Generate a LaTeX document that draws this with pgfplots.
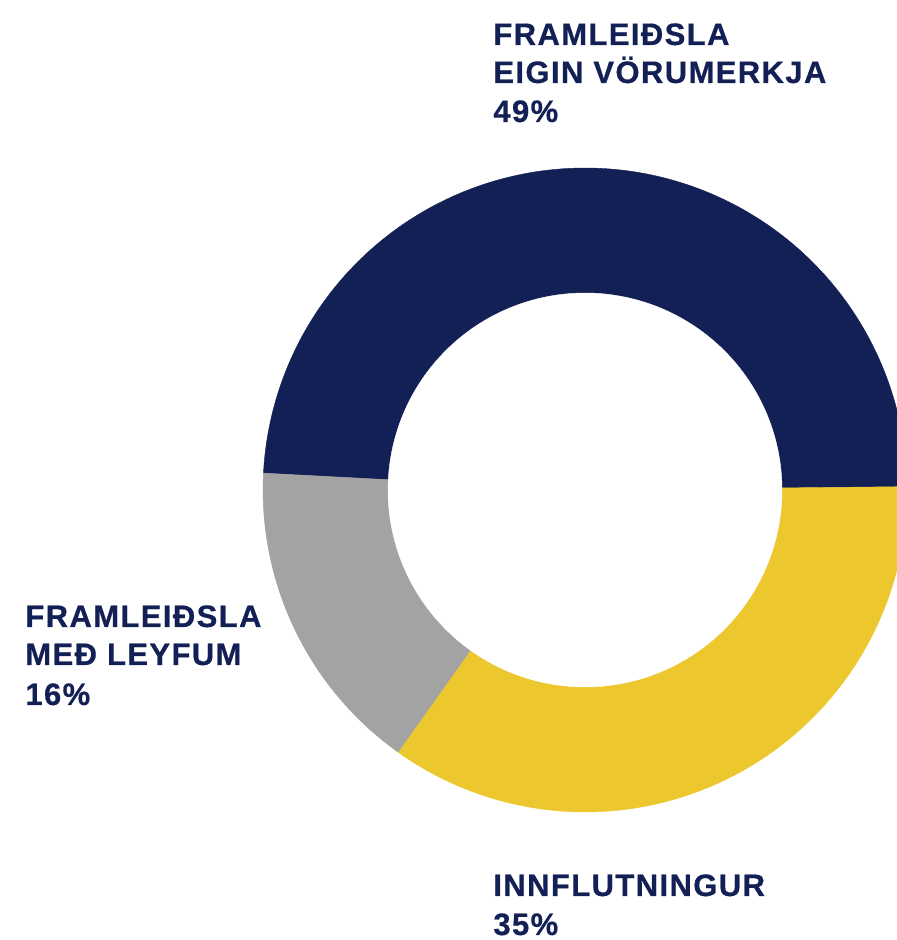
\documentclass[border=0pt]{standalone}
\usepackage{pgfplots}
\pgfplotsset{compat=1.18}
\usepackage{pgfplotstable}
\usetikzlibrary{calc}
\usepackage{fontspec}
\newfontfamily\lbl[LetterSpace=4.5, BoldFeatures={FakeBold=0.6}]{Liberation Sans}
\definecolor{navy}{RGB}{19,32,85}
\definecolor{gold}{RGB}{236,200,46}
\definecolor{midgray}{RGB}{163,163,163}

\pgfplotstableread{
label share
eigin 49
leyfum 16
innflutningur 35
}\shares

\begin{document}
\begin{tikzpicture}
\pgfplotstablegetelem{0}{share}\of\shares \pgfmathsetmacro{\sa}{\pgfplotsretval}
\pgfplotstablegetelem{1}{share}\of\shares \pgfmathsetmacro{\sb}{\pgfplotsretval}
\pgfplotstablegetelem{2}{share}\of\shares \pgfmathsetmacro{\sc}{\pgfplotsretval}
\pgfmathsetmacro{\aS}{0.6}
\pgfmathsetmacro{\aE}{\aS+3.6*\sa}
\pgfmathsetmacro{\bE}{\aE+3.6*\sb}
\pgfmathsetmacro{\cE}{\bE+3.6*\sc}
\begin{axis}[
  hide axis, scale only axis,
  x=0.5pt, y=0.5pt,
  xmin=0, xmax=897, ymin=0, ymax=940,
  clip=true,
]
\coordinate (bl) at (axis cs:0,0);
\coordinate (tr) at (axis cs:897,940);
\addplot[fill=navy, draw=navy, line width=0.2pt, domain=\aS:\aE, samples=150, variable=\t]
  ({585+322*cos(\t)},{450+322*sin(\t)}) -- (axis cs:585,450) -- cycle;
\addplot[fill=midgray, draw=midgray, line width=0.2pt, domain=\aE:\bE, samples=80, variable=\t]
  ({585+322*cos(\t)},{450+322*sin(\t)}) -- (axis cs:585,450) -- cycle;
\addplot[fill=gold, draw=gold, line width=0.2pt, domain=\bE:\cE, samples=120, variable=\t]
  ({585+322*cos(\t)},{450+322*sin(\t)}) -- (axis cs:585,450) -- cycle;
\addplot[fill=white, draw=white, line width=0.2pt, domain=0:360, samples=240, variable=\t]
  ({585+197*cos(\t)},{450+197*sin(\t)}) -- cycle;
\end{axis}
\begin{scope}[every node/.style={anchor=base west, inner sep=0pt, text=navy,
    font=\lbl\bfseries\fontsize{15.5pt}{18pt}\selectfont}]
\node at ($(bl)+(246.5pt,447.5pt)$) {FRAMLEIÐSLA};
\node at ($(bl)+(246.5pt,428.5pt)$) {EIGIN VÖRUMERKJA};
\node at ($(bl)+(246.5pt,409pt)$) {49\%};
\node at ($(bl)+(12.5pt,156.5pt)$) {FRAMLEIÐSLA};
\node at ($(bl)+(12.5pt,137.5pt)$) {MEÐ LEYFUM};
\node at ($(bl)+(12.5pt,117.5pt)$) {16\%};
\node at ($(bl)+(246.5pt,22pt)$) {INNFLUTNINGUR};
\node at ($(bl)+(246.5pt,2.5pt)$) {35\%};
\end{scope}
\pgfresetboundingbox
\useasboundingbox (bl) rectangle (tr);
\end{tikzpicture}
\end{document}
